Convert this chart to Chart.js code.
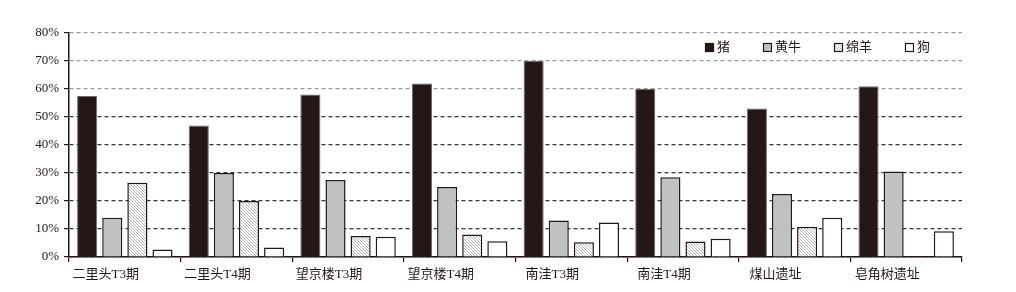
<!DOCTYPE html>
<html><head><meta charset="utf-8">
<script src="https://cdn.jsdelivr.net/npm/chart.js@4/dist/chart.umd.min.js"></script>
<style>html,body{margin:0;padding:0;background:#fff}#wrap{width:1016px;height:292px}</style>
</head><body><div id="wrap"><canvas id="c" width="1016" height="292"></canvas></div>
<script>
const categories = ['二里头T3期','二里头T4期','望京楼T3期','望京楼T4期','南洼T3期','南洼T4期','煤山遗址','皂角树遗址'];
const seriesNames = ['猪','黄牛','绵羊','狗'];
const pig    = [57.5, 47, 58, 62, 70, 60, 53, 61];
const cattle = [14, 30, 27.5, 25, 13, 28.5, 22.5, 30.5];
const sheep  = [26.5, 20, 7.5, 8, 5.3, 5.5, 10.8, 0];
const dog    = [2.7, 3.4, 7.2, 5.6, 12.3, 6.5, 14, 9.2];
const yTicks = [0,10,20,30,40,50,60,70,80];

function hatch(){
  const c = document.createElement('canvas'); c.width = 3; c.height = 3;
  const g = c.getContext('2d');
  g.fillStyle = '#fff'; g.fillRect(0,0,3,3);
  g.strokeStyle = '#a8a8a8'; g.lineWidth = 0.8;
  g.beginPath(); g.moveTo(-1,-1); g.lineTo(4,4); g.moveTo(-1,2); g.lineTo(1,4); g.moveTo(2,-1); g.lineTo(4,1); g.stroke();
  return g.createPattern(c,'repeat');
}
const sheepFill = hatch();
const FONT = '"Liberation Serif","Noto Sans CJK SC",serif';
const fills = ['#231815','#c0c2c1',sheepFill,'#ffffff'];
const borders = ['#6d6a69','#231815','#231815','#231815'];
const values = [pig,cattle,sheep,dog];

const legendPlugin = {
  id:'customLegend',
  afterDraw(chart){
    const ctx = chart.ctx;
    const xs = [705,763,834,905];
    ctx.save();
    chart.data.datasets.forEach((ds,i)=>{
      const x = xs[i], y = 43;
      ctx.fillStyle = ds.backgroundColor; ctx.fillRect(x,y,9,9);
      ctx.strokeStyle = '#231815'; ctx.lineWidth = 1.2; ctx.strokeRect(x+0.5,y+0.5,8,8);
      ctx.fillStyle = '#231815'; ctx.font = '13px ' + FONT; ctx.textBaseline='middle';
      ctx.fillText(ds.label, x+12, y+5);
    });
    ctx.restore();
  }
};

new Chart(document.getElementById('c'), {
  type:'bar',
  data:{
    labels: categories,
    datasets: seriesNames.map((n,i)=>({label:n, data: values[i], backgroundColor: fills[i], borderColor: borders[i], borderWidth: i===0?1:1.5}))
  },
  options:{
    responsive:false, animation:false,
    layout:{padding:{top:33,right:54,left:0,bottom:0}},
    datasets:{bar:{categoryPercentage:0.9, barPercentage:0.8}},
    plugins:{legend:{display:false}, tooltip:{enabled:false}},
    scales:{
      x:{
        grid:{display:true, drawOnChartArea:false, drawTicks:true, tickLength:5, color:'#231815', lineWidth:1.2},
        border:{display:true, color:'#231815', width:1.5},
        ticks:{color:'#231815', font:{family:FONT, size:13}, labelOffset:-19, padding:5, maxRotation:0},
        afterFit(s){ s.height = 35; }
      },
      y:{
        min:0, max:80,
        afterBuildTicks(s){ s.ticks = yTicks.map(v=>({value:v})); },
        grid:{drawTicks:true, tickLength:5, tickColor:'#231815', lineWidth:1.2,
          color:(ctx)=> (ctx.tick && ctx.tick.value>=60) ? '#9a9a9a' : '#3a3a3a'},
        border:{display:true, color:'#231815', width:1.5, dash:[4,3]},
        ticks:{color:'#231815', font:{family:FONT, size:13}, padding:5, callback:v=>v+'%'},
        afterFit(s){ s.width = 69; }
      }
    }
  },
  plugins:[legendPlugin]
});
</script></body></html>
